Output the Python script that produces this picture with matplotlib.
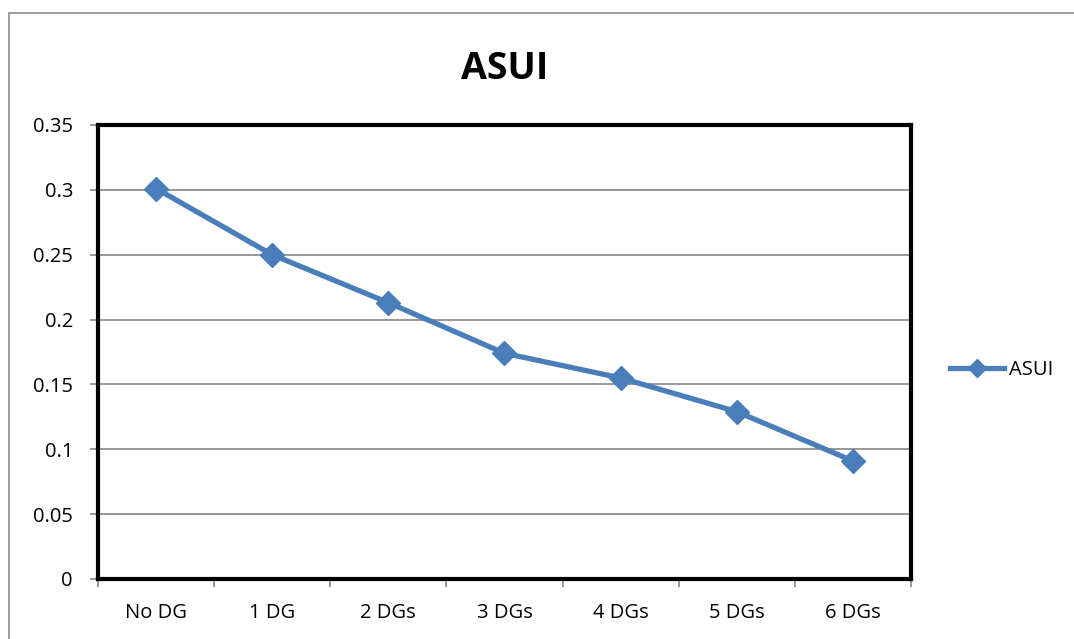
import matplotlib.pyplot as plt
from matplotlib.patches import Rectangle

categories = ['No DG', '1 DG', '2 DGs', '3 DGs', '4 DGs', '5 DGs', '6 DGs']
asui = [0.301, 0.250, 0.213, 0.174, 0.155, 0.129, 0.091]
yticks = [0, 0.05, 0.1, 0.15, 0.2, 0.25, 0.3, 0.35]
ytick_labels = ['0', '0.05', '0.1', '0.15', '0.2', '0.25', '0.3', '0.35']

plt.rcParams['font.family'] = ['Open Sans', 'DejaVu Sans']

W, H = 1074, 639
fig = plt.figure(figsize=(W / 100, H / 100), dpi=100)

# outer chart border (right/bottom fall outside the picture)
fig.patches.append(Rectangle((9 / W, -0.5), 2, 1.5 - 13 / H, transform=fig.transFigure,
                             fill=False, edgecolor='#8c8c8c', linewidth=1.2))

ax = fig.add_axes([98 / W, 1 - 579 / H, (911 - 98) / W, (579 - 125) / H])

x = list(range(len(categories)))
ax.plot(x, asui, color='#4a7ebb', linewidth=3.8, marker='D', markersize=12,
        markerfacecolor='#4a7ebb', markeredgecolor='#4a7ebb', label='ASUI', zorder=3)

ax.set_xlim(-0.5, len(categories) - 0.5)
ax.set_ylim(0, 0.35)
ax.set_yticks(yticks)
ax.set_yticklabels(ytick_labels)
ax.set_xticks(x)
ax.set_xticklabels(categories)
ax.set_xticks([i - 0.5 for i in range(len(categories) + 1)], minor=True)

ax.grid(axis='y', color='#868686', linewidth=1.2)
ax.set_axisbelow(True)
for s in ax.spines.values():
    s.set_linewidth(3)
    s.set_color('black')

ax.tick_params(axis='x', which='major', length=0, pad=17, labelsize=14.5)
ax.tick_params(axis='x', which='minor', length=6, color='#868686', width=1.2)
ax.tick_params(axis='y', length=6, color='#868686', width=1.2, pad=12, labelsize=14.5)

ax.set_title('ASUI', fontsize=27, fontweight='bold', pad=33)

leg = ax.legend(loc='center left', bbox_to_anchor=(1.048, 0.46), frameon=False,
                fontsize=14.5, handlelength=2.7, handletextpad=0.25,
                borderpad=0, borderaxespad=0, markerscale=0.8)

fig.savefig('out.png', dpi=100)
